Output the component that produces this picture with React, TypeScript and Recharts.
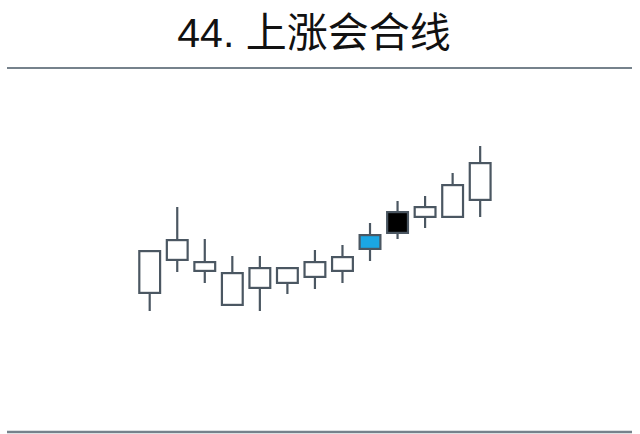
import React from 'react';
import { ComposedChart, Bar, XAxis, YAxis } from 'recharts';

// candles, in arbitrary price units
const days = ['1', '2', '3', '4', '5', '6', '7', '8', '9', '10', '11', '12', '13'];
const opens = [5.6, 8.9, 7.8, 4.4, 6.1, 6.6, 7.2, 7.8, 10.0, 13.9, 13.2, 13.2, 14.9];
const closes = [10.0, 11.1, 8.9, 7.8, 8.3, 8.3, 8.9, 9.4, 11.6, 11.6, 14.4, 16.6, 18.8];
const highs = [10.0, 14.3, 11.1, 9.4, 9.4, 8.3, 10.0, 10.5, 12.7, 14.9, 15.4, 17.7, 20.4];
const lows = [3.9, 7.8, 6.7, 4.4, 3.9, 5.6, 6.1, 6.7, 8.9, 11.1, 12.2, 13.2, 13.3];

// first candle of the meeting-line pair
const PATTERN_START = 8;

const chartData = days.map((day, i) => ({
    day,
    open: opens[i],
    close: closes[i],
    high: highs[i],
    low: lows[i],
    range: [lows[i], highs[i]],
    idx: i,
}));

const OUTLINE = '#4b5762';
const RULE = '#76828c';

const Candle = (props: any) => {
    const { x, y, width, height, payload } = props;
    const { open, close, high, low, idx } = payload;
    const span = high - low || 1;
    const toY = (v: number) => y + ((high - v) / span) * height;
    const cx = x + width / 2;
    const bodyTop = toY(Math.max(open, close));
    const bodyBottom = toY(Math.min(open, close));
    let fill = '#ffffff';
    if (idx === PATTERN_START) fill = '#1ba6e3';
    else if (close < open) fill = '#000000';
    return (
        <g>
            <line x1={cx} x2={cx} y1={y} y2={y + height} stroke={OUTLINE} strokeWidth={2.2} />
            <rect
                x={x + 1.1}
                y={bodyTop + 1.1}
                width={width - 2.2}
                height={Math.max(bodyBottom - bodyTop - 2.2, 1)}
                fill={fill}
                stroke={OUTLINE}
                strokeWidth={2.2}
            />
        </g>
    );
};

export default function App() {
    return (
        <div style={{ position: 'absolute', left: 0, top: 0, width: 640, height: 434, background: '#fff' }}>
            <ComposedChart
                width={640}
                height={434}
                data={chartData}
                margin={{ top: 50, right: 146, bottom: 84, left: 136 }}
                barCategoryGap="8%"
            >
                <XAxis dataKey="day" hide />
                <YAxis hide domain={[0, 30]} />
                <Bar dataKey="range" shape={<Candle />} isAnimationActive={false} />
            </ComposedChart>
            <svg width={640} height={434} style={{ position: 'absolute', left: 0, top: 0, pointerEvents: 'none' }}>
                <text x={314} y={47} textAnchor="middle" fill="#111" fontSize={41} fontFamily="'Liberation Sans', 'Noto Sans CJK SC', sans-serif">
                    44. 上涨会合线
                </text>
                <line x1={7} x2={632} y1={68} y2={68} stroke={RULE} strokeWidth={2} />
                <line x1={7} x2={632} y1={432} y2={432} stroke={RULE} strokeWidth={2.5} />
            </svg>
        </div>
    );
}
